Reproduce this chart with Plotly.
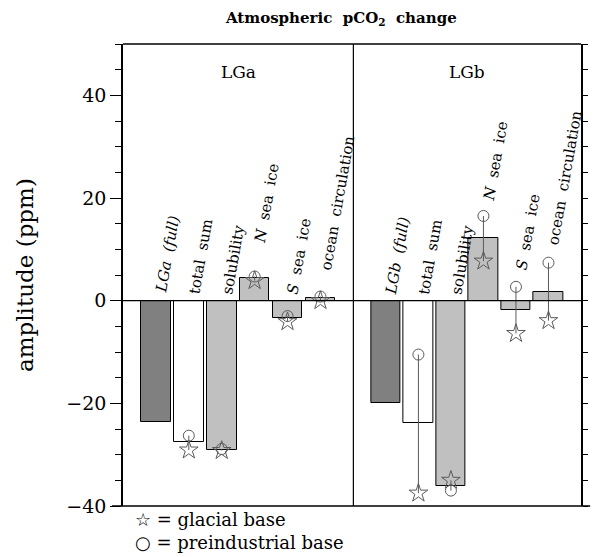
import plotly.graph_objects as go

# ---------------- data ----------------
labels_a = ["<i>LGa &nbsp;(full)</i>", "total &nbsp;sum", "solubility",
            "<i>N</i> &nbsp;sea &nbsp;ice", "<i>S</i> &nbsp;sea &nbsp;ice", "ocean &nbsp;circulation"]
labels_b = ["<i>LGb &nbsp;(full)</i>", "total &nbsp;sum", "solubility",
            "<i>N</i> &nbsp;sea &nbsp;ice", "<i>S</i> &nbsp;sea &nbsp;ice", "ocean &nbsp;circulation"]
positions = [0, 1, 2, 3, 4, 5]

lga_bar = [-23.7, -27.6, -29.1, 4.4, -3.4, 0.5]
lga_pre = [None, -26.3, -28.9, 4.7, -3.0, 0.8]
lga_gla = [None, -29.1, -29.2, 3.9, -4.1, 0.0]

lgb_bar = [-20.0, -23.9, -36.1, 12.2, -1.8, 1.75]
lgb_pre = [None, -10.5, -37.0, 16.5, 2.7, 7.4]
lgb_gla = [None, -37.5, -35.0, 7.7, -6.4, -3.9]

# ---------------- style / layout ----------------
bar_colors = ["#808080", "#ffffff", "#c0c0c0", "#c0c0c0", "#c0c0c0", "#c0c0c0"]
label_y_a = [0.8, 0.5, 0.5, 10.5, 0.5, 5.3]
label_y_b = [0.5, 0.5, 0.5, 18.7, 5.3, 10.2]
mark_col = "#5a5a5a"
split = 0.503
serif = "DejaVu Serif"

fig = go.Figure()


def add_panel(xaxis, bars, pre, gla):
    fig.add_trace(go.Bar(x=positions, y=bars, width=0.9, xaxis=xaxis, yaxis="y",
                         marker=dict(color=bar_colors, line=dict(color="black", width=1)),
                         showlegend=False))
    lx, ly = [], []
    for x, c, s in zip(positions, pre, gla):
        if c is not None and s is not None:
            lx += [x, x, None]
            ly += [c, s, None]
    fig.add_trace(go.Scatter(x=lx, y=ly, mode="lines", xaxis=xaxis, yaxis="y",
                             line=dict(color=mark_col, width=1), showlegend=False))
    fig.add_trace(go.Scatter(x=positions, y=pre, mode="markers", xaxis=xaxis, yaxis="y",
                             marker=dict(symbol="circle-open", size=11,
                                         color=mark_col, line=dict(width=1)),
                             showlegend=False))
    fig.add_trace(go.Scatter(x=positions, y=gla, mode="markers", xaxis=xaxis, yaxis="y",
                             marker=dict(symbol="star-open", size=14,
                                         color=mark_col, line=dict(width=1)),
                             showlegend=False))


add_panel("x", lga_bar, lga_pre, lga_gla)
add_panel("x2", lgb_bar, lgb_pre, lgb_gla)

ann = []
for xref, labs, ys in (("x", labels_a, label_y_a), ("x2", labels_b, label_y_b)):
    for x, t, y in zip(positions, labs, ys):
        ann.append(dict(x=x, y=y, xref=xref, yref="y", text=t, showarrow=False,
                        textangle=-80, xanchor="left", yanchor="bottom", xshift=-6,
                        font=dict(family=serif, size=15, color="black")))

ann += [
    dict(x=2.5, y=44.5, xref="x", yref="y", text="LGa", showarrow=False,
         font=dict(family=serif, size=17, color="black")),
    dict(x=2.5, y=44.5, xref="x2", yref="y", text="LGb", showarrow=False,
         font=dict(family=serif, size=17, color="black")),
    dict(x=0.475, y=1.056, xref="paper", yref="paper", yanchor="middle",
         text="<b>Atmospheric &nbsp;pCO<sub>2</sub> &nbsp;change</b>", showarrow=False,
         font=dict(family=serif, size=15, color="black")),
    dict(x=-0.214, y=0.5, xref="paper", yref="paper", text="amplitude (ppm)",
         textangle=-90, showarrow=False, xanchor="center", yanchor="middle",
         font=dict(family=serif, size=23, color="black")),
    dict(x=0.0216, y=-0.030, xref="paper", yref="paper", xanchor="left", yanchor="middle",
         text="☆ = glacial base", showarrow=False,
         font=dict(family=serif, size=18, color="black")),
    dict(x=0.0216, y=-0.078, xref="paper", yref="paper", xanchor="left", yanchor="middle",
         text="○ = preindustrial base", showarrow=False,
         font=dict(family=serif, size=18, color="black")),
]

shapes = [
    dict(type="line", xref="paper", yref="y", x0=0, x1=1, y0=0, y1=0,
         line=dict(color="black", width=1.2)),
    dict(type="line", xref="paper", yref="paper", x0=split, x1=split, y0=0, y1=1,
         line=dict(color="black", width=1.2)),
    dict(type="line", xref="paper", yref="paper", x0=0, x1=1, y0=1, y1=1,
         line=dict(color="black", width=1.5)),
    dict(type="line", xref="paper", yref="paper", x0=-0.024, x1=1.02, y0=0, y1=0,
         line=dict(color="black", width=1.5)),
]

xcommon = dict(range=[-1, 6], showticklabels=False, ticks="", showgrid=False,
               zeroline=False, showline=False)

fig.update_layout(
    width=595, height=557,
    margin=dict(l=123, r=9, t=44, b=51),
    paper_bgcolor="white", plot_bgcolor="white",
    xaxis=dict(domain=[0, split], anchor="y", **xcommon),
    xaxis2=dict(domain=[split, 1], anchor="y", **xcommon),
    yaxis=dict(range=[-40, 50], tickvals=[-40, -20, 0, 20, 40],
               ticktext=["−40", "−20", "0", "20", "40"],
               ticks="outside", ticklen=11, tickwidth=1.2, tickcolor="black",
               minor=dict(dtick=5, tick0=0, ticks="outside", ticklen=6,
                          tickcolor="black", tickwidth=1),
               showline=True, linecolor="black", linewidth=1.5,
               showgrid=False, zeroline=False, anchor="x",
               tickfont=dict(family=serif, size=19, color="black")),
    yaxis2=dict(range=[-40, 50], overlaying="y", side="right", anchor="x2",
                dtick=5, tick0=0, ticks="outside", ticklen=5, tickcolor="black",
                showticklabels=False, showline=True, linecolor="black",
                linewidth=1.5, showgrid=False, zeroline=False),
    annotations=ann, shapes=shapes, bargap=0,
)
# invisible trace so that the right-hand axis is drawn
fig.add_trace(go.Scatter(x=[None], y=[None], xaxis="x2", yaxis="y2", showlegend=False))

fig.write_html("out.html")
